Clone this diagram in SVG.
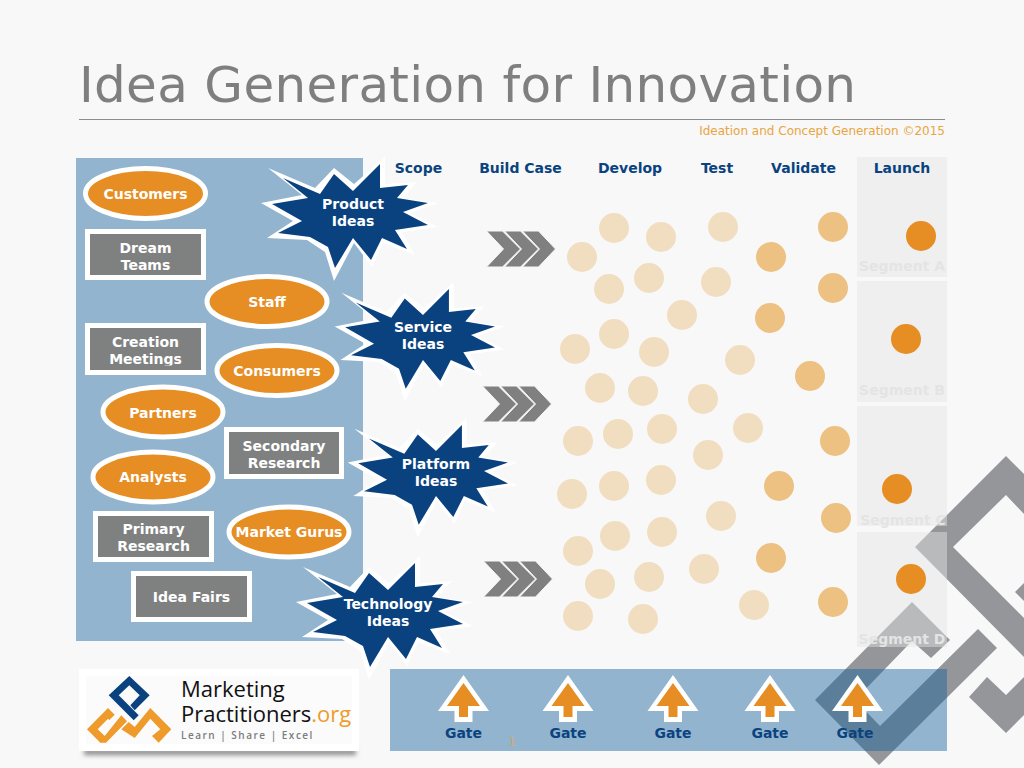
<svg xmlns="http://www.w3.org/2000/svg" xmlns:xlink="http://www.w3.org/1999/xlink" width="1024" height="768" viewBox="0 0 1024 768">
<style>
text{font-family:"DejaVu Sans",Verdana,sans-serif;text-anchor:middle}
.lbl{font-size:14px;font-weight:700;fill:#fff}
.hdr{font-size:14px;font-weight:700;fill:#0a437f}
.seg{font-size:14px;font-weight:700;fill:#e4e4e4}
.oval{fill:#e68d23;stroke:#fff;stroke-width:5}
.box{fill:#7f8181;stroke:#fff;stroke-width:5}
.sw{fill:#fff}
.sd{fill:#0a4280}
.pale{fill:#f1dec0}
.mid{fill:#ecc182}
.dark{fill:#e68d23}
.panel{fill:#17619e;fill-opacity:.45}
.segp{fill:#e4e4e4;fill-opacity:.46}
.wm{fill:#7f8285;fill-opacity:.83}
.chev{fill:#808080;stroke:#f8f8f8;stroke-width:1}
.logo{font-family:"Open Sans",sans-serif;text-anchor:start}
</style>
<defs>
<g id="s">
<polygon class="sw" points="-85,-45 -38,-25 -19,-45 1,-29 32,-56 32,-29 64,-31 50,-15 85,-10 57,0 85,14 49,19 62,42 30,30 19,54 1,30 -19,68 -28,39 -46,27 -86,25 -60,8 -92,-10 -51,-18"/>
<polygon class="sd" points="-70,-35 -33,-19 -19,-39 0,-22 27,-49 27,-25 55,-28 44,-15 75,-10 50,-1 75,12 42,17 54,36 29,25 18,47 0,25 -18,55 -25,34 -43,24 -75,20 -51,8 -81,-9 -45,-15"/>
</g>
<g id="a">
<polygon fill="#fff" points="0,-33 25.500,3 9,3 9,14 -9,14 -9,3 -25.500,3"/>
<polygon fill="#e68d23" points="0,-25 16.500,-2 4.500,-2 4.500,9 -4.500,9 -4.500,-2 -16.500,-2"/>
</g>
<g id="c"><polygon class="chev" points="36,0 52,0 69,18 52,36 36,36 53,18"/><polygon class="chev" points="18,0 34,0 52,18 34,36 18,36 35,18"/><polygon class="chev" points="0,0 16,0 34,18 16,36 0,36 17,18"/></g>
<clipPath id="cm"><rect x="90" y="328" width="111" height="37.500"/></clipPath>
<clipPath id="cs"><rect x="857" y="406" width="90" height="130"/></clipPath>
<filter id="b" x="-10%" y="-100%" width="120%" height="300%"><feGaussianBlur stdDeviation="2.500"/></filter>
</defs>
<rect width="1024" height="768" fill="#f8f8f8"/>
<g id="title">
<text x="467.500" y="102" font-size="50" fill="#7f7f7f" textLength="777" lengthAdjust="spacing">Idea Generation for Innovation</text>
<line x1="79" y1="119.500" x2="945" y2="119.500" stroke="#8c8c8c" stroke-width="1"/>
<text x="945" y="135" font-size="12" fill="#e8a53f" style="text-anchor:end">Ideation and Concept Generation ©2015</text>
</g>
<g id="watermark">
<polygon class="wm" points="1006,456 1024,474 1024,514 1006,495 953,547 1024,618 1024,657 915,547"/>
<polygon class="wm" points="1015,592 1024,583 1024,601"/>
<polygon class="wm" points="815,700 912,602 950,640 931,658 912,641 855,700 880,726 978,629 997,648 879,765"/>
<polygon class="wm" points="969,697 987,677 1006,695 1024,677 1024,715 1006,733"/>
</g>
<g id="panels">
<rect class="panel" x="76" y="158" width="287" height="483"/>
<rect class="panel" x="390" y="669" width="557" height="82"/>
<rect class="segp" x="857" y="157" width="90" height="120"/>
<rect class="segp" x="857" y="281" width="90" height="121"/>
<rect class="segp" x="857" y="406" width="90" height="120"/>
<rect class="segp" x="857" y="532" width="90" height="115"/>
</g>
<g id="stage-headers">
<text class="hdr" x="418.500" y="173">Scope</text>
<text class="hdr" x="520.500" y="173">Build Case</text>
<text class="hdr" x="630" y="173">Develop</text>
<text class="hdr" x="717" y="173">Test</text>
<text class="hdr" x="803.500" y="173">Validate</text>
<text class="hdr" x="902" y="173">Launch</text>
</g>
<g id="segments">
<text class="seg" x="902" y="271">Segment A</text>
<text class="seg" x="902" y="395">Segment B</text>
<text class="seg" x="903" y="524.500" clip-path="url(#cs)">Segment C</text>
<text class="seg" x="902" y="644">Segment D</text>
</g>
<g id="ideas">
<circle class="pale" cx="614" cy="228" r="15"/><circle class="pale" cx="661" cy="237" r="15"/><circle class="pale" cx="723" cy="227" r="15"/><circle class="mid" cx="833" cy="227" r="15"/><circle class="pale" cx="582" cy="257" r="15"/><circle class="mid" cx="771" cy="257" r="15"/><circle class="pale" cx="609" cy="289" r="15"/><circle class="pale" cx="649" cy="278" r="15"/><circle class="pale" cx="716" cy="282" r="15"/><circle class="mid" cx="833" cy="288" r="15"/><circle class="pale" cx="682" cy="315" r="15"/><circle class="mid" cx="770" cy="318" r="15"/><circle class="pale" cx="614" cy="334" r="15"/><circle class="pale" cx="575" cy="349" r="15"/><circle class="pale" cx="654" cy="352" r="15"/><circle class="pale" cx="740" cy="360" r="15"/><circle class="mid" cx="810" cy="376" r="15"/><circle class="pale" cx="600" cy="388" r="15"/><circle class="pale" cx="643" cy="391" r="15"/><circle class="pale" cx="703" cy="399" r="15"/><circle class="pale" cx="748" cy="428" r="15"/><circle class="pale" cx="578" cy="441" r="15"/><circle class="pale" cx="618" cy="434" r="15"/><circle class="pale" cx="662" cy="429" r="15"/><circle class="mid" cx="835" cy="441" r="15"/><circle class="pale" cx="708" cy="455" r="15"/><circle class="pale" cx="572" cy="494" r="15"/><circle class="pale" cx="614" cy="486" r="15"/><circle class="pale" cx="661" cy="480" r="15"/><circle class="mid" cx="779" cy="486" r="15"/><circle class="pale" cx="721" cy="516" r="15"/><circle class="mid" cx="836" cy="518" r="15"/><circle class="pale" cx="578" cy="551" r="15"/><circle class="pale" cx="615" cy="536" r="15"/><circle class="pale" cx="662" cy="532" r="15"/><circle class="mid" cx="771" cy="558" r="15"/><circle class="pale" cx="704" cy="569" r="15"/><circle class="pale" cx="600" cy="584" r="15"/><circle class="pale" cx="649" cy="577" r="15"/><circle class="pale" cx="754" cy="605" r="15"/><circle class="mid" cx="833" cy="602" r="15"/><circle class="pale" cx="578" cy="616" r="15"/><circle class="pale" cx="643" cy="619" r="15"/>
<circle class="dark" cx="921" cy="236" r="15"/><circle class="dark" cx="906" cy="339" r="15"/><circle class="dark" cx="897" cy="489" r="15"/><circle class="dark" cx="911" cy="579" r="15"/>
</g>
<g id="connectors">
<use xlink:href="#c" href="#c" x="486.500" y="231"/>
<use xlink:href="#c" href="#c" x="482.500" y="386"/>
<use xlink:href="#c" href="#c" x="483.500" y="561"/>
</g>
<g id="customers"><ellipse class="oval" cx="145.500" cy="193.500" rx="60" ry="25"/><text class="lbl" x="145.500" y="199">Customers</text></g>
<g id="dream-teams"><rect class="box" x="87.500" y="231.500" width="116" height="46"/><text class="lbl" x="145.500" y="253">Dream</text><text class="lbl" x="145.500" y="270">Teams</text></g>
<g id="staff"><ellipse class="oval" cx="267" cy="301.500" rx="60" ry="25"/><text class="lbl" x="267" y="307">Staff</text></g>
<g id="creation-meetings"><rect class="box" x="87.500" y="325.500" width="116" height="47"/><text class="lbl" x="145.500" y="347">Creation</text><text class="lbl" x="145.500" y="364" clip-path="url(#cm)">Meetings</text></g>
<g id="consumers"><ellipse class="oval" cx="277" cy="370.500" rx="60" ry="25"/><text class="lbl" x="277" y="376">Consumers</text></g>
<g id="partners"><ellipse class="oval" cx="163" cy="412" rx="60" ry="25"/><text class="lbl" x="163" y="418">Partners</text></g>
<g id="secondary-research"><rect class="box" x="226.500" y="429.500" width="115" height="47"/><text class="lbl" x="284" y="451">Secondary</text><text class="lbl" x="284" y="468">Research</text></g>
<g id="analysts"><ellipse class="oval" cx="153" cy="477" rx="60" ry="25"/><text class="lbl" x="153" y="482">Analysts</text></g>
<g id="primary-research"><rect class="box" x="95.500" y="513.500" width="116" height="46"/><text class="lbl" x="153.500" y="534">Primary</text><text class="lbl" x="153.500" y="551">Research</text></g>
<g id="market-gurus"><ellipse class="oval" cx="289" cy="532" rx="60" ry="25"/><text class="lbl" x="289" y="537">Market Gurus</text></g>
<g id="idea-fairs"><rect class="box" x="133.500" y="573.500" width="116" height="46"/><text class="lbl" x="191.500" y="602">Idea Fairs</text></g>
<g id="product-ideas"><use xlink:href="#s" href="#s" x="353" y="213"/><text class="lbl" x="353" y="209">Product</text><text class="lbl" x="353" y="226">Ideas</text></g>
<g id="service-ideas"><use xlink:href="#s" href="#s" transform="translate(423 336) scale(.96)"/><text class="lbl" x="423" y="332">Service</text><text class="lbl" x="423" y="349">Ideas</text></g>
<g id="platform-ideas"><use xlink:href="#s" href="#s" transform="translate(436 472) scale(.96)"/><text class="lbl" x="436" y="469">Platform</text><text class="lbl" x="436" y="486">Ideas</text></g>
<g id="technology-ideas"><use xlink:href="#s" href="#s" x="388" y="612"/><text class="lbl" x="388" y="609">Technology</text><text class="lbl" x="388" y="626">Ideas</text></g>
<g id="gates">
<use xlink:href="#a" href="#a" x="463.500" y="708"/><text class="hdr" x="463.500" y="738">Gate</text>
<use xlink:href="#a" href="#a" x="568" y="708"/><text class="hdr" x="568" y="738">Gate</text>
<use xlink:href="#a" href="#a" x="673" y="708"/><text class="hdr" x="673" y="738">Gate</text>
<use xlink:href="#a" href="#a" x="770" y="708"/><text class="hdr" x="770" y="738">Gate</text>
<use xlink:href="#a" href="#a" x="857.500" y="708"/><text class="hdr" x="855" y="738">Gate</text>
<text x="512" y="746" font-size="12" fill="#d8a75a">1</text>
</g>
<g id="logo">
<rect x="84" y="749" width="272" height="6" fill="#888" filter="url(#b)"/>
<rect x="79" y="669" width="280" height="82" fill="#fff"/>
<rect x="86" y="676" width="266" height="68" fill="#fbfbfb"/>
<polygon fill="#0a4280" points="129.300,676 149.700,695.300 134.700,710.300 130.300,705.300 139.700,695.300 129.300,685.300 118.700,695.300 138.700,715.300 133.700,720.300 108.700,695.300"/>
<polygon fill="#ee9b2c" points="87,729.300 108,708 114.700,714.700 109.300,720 108,718.700 97.700,729.300 104.700,736 121.300,715.300 127,721.300 106,742.700 100.300,742.700"/>
<polygon fill="#ee9b2c" points="121.300,729.300 128.700,722 134.700,727 150.300,708 171.300,729.300 158.700,742.700 152,736 160.300,729.300 150.300,718.700 134.700,738"/>
<text class="logo" x="181" y="697" font-size="22" fill="#111">Marketing</text>
<text class="logo" x="181" y="722" font-size="22" fill="#111">Practitioners<tspan fill="#ee9b2c">.org</tspan></text>
<text class="logo" x="181" y="739" font-size="10" font-weight="600" fill="#7c7c7c" letter-spacing="1.500">Learn | Share | Excel</text>
</g>
</svg>
